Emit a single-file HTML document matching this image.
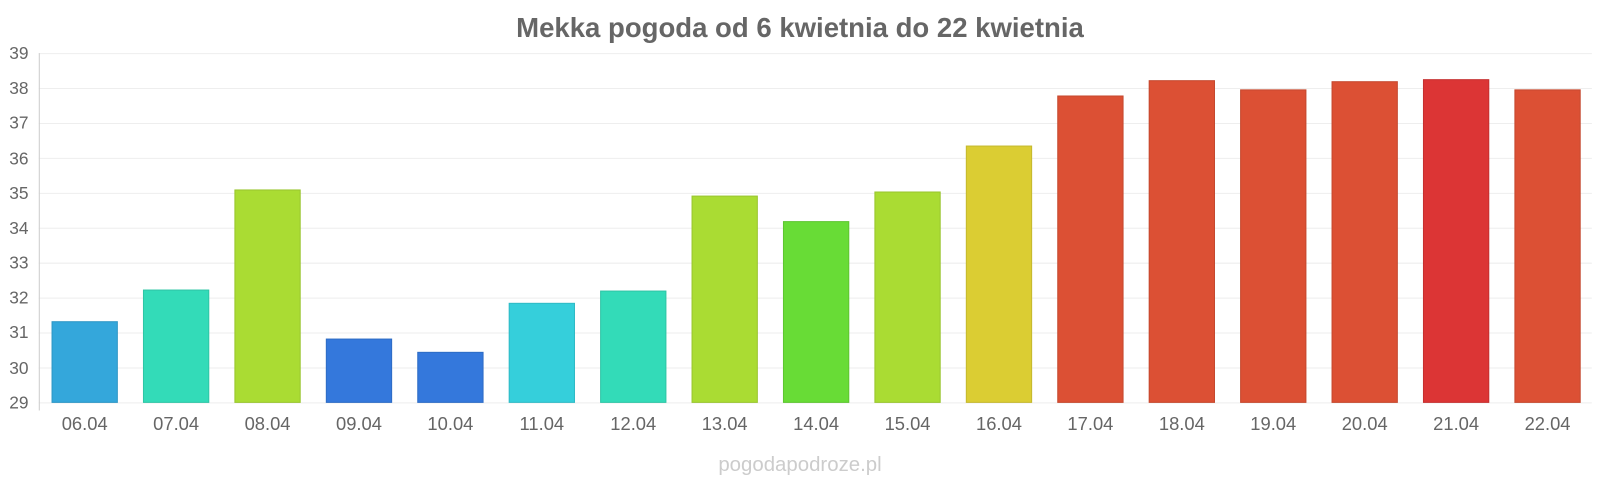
<!DOCTYPE html>
<html><head><meta charset="utf-8"><style>
body{margin:0;background:#fff;}
svg{display:block;font-family:"Liberation Sans",sans-serif;}
</style></head><body>
<svg width="1600" height="480" viewBox="0 0 1568 470" preserveAspectRatio="none" xmlns="http://www.w3.org/2000/svg">
<text x="784" y="36" text-anchor="middle" font-size="27" font-weight="bold" fill="#666">Mekka pogoda od 6 kwietnia do 22 kwietnia</text>
<g stroke="#eee" stroke-width="1">
<line x1="38" x2="1560" y1="52.5" y2="52.5"/>
<line x1="38" x2="1560" y1="86.7" y2="86.7"/>
<line x1="38" x2="1560" y1="120.9" y2="120.9"/>
<line x1="38" x2="1560" y1="155.1" y2="155.1"/>
<line x1="38" x2="1560" y1="189.3" y2="189.3"/>
<line x1="38" x2="1560" y1="223.5" y2="223.5"/>
<line x1="38" x2="1560" y1="257.7" y2="257.7"/>
<line x1="38" x2="1560" y1="291.9" y2="291.9"/>
<line x1="38" x2="1560" y1="326.1" y2="326.1"/>
<line x1="38" x2="1560" y1="360.3" y2="360.3"/>
<line x1="38" x2="1560" y1="394.5" y2="394.5"/>
</g>
<line x1="38.5" x2="38.5" y1="52" y2="402" stroke="#ccc"/>
<g font-size="17" fill="#666" text-anchor="end">
<text x="28" y="58">39</text><text x="28" y="92">38</text><text x="28" y="126">37</text><text x="28" y="161">36</text><text x="28" y="195">35</text><text x="28" y="229">34</text><text x="28" y="263">33</text><text x="28" y="297">32</text><text x="28" y="331">31</text><text x="28" y="366">30</text><text x="28" y="400">29</text>
</g>
<g stroke-width="1">
<rect x="51" y="315" width="64" height="79" fill="#34a7db" stroke="#2e96c5"/>
<rect x="140.6" y="284" width="64" height="110" fill="#33dbb8" stroke="#2ec5a5"/>
<rect x="230.2" y="186" width="64" height="208" fill="#aadc33" stroke="#99c52e"/>
<rect x="319.8" y="332" width="64" height="62" fill="#3478dc" stroke="#2e6cc5"/>
<rect x="409.4" y="345" width="64" height="49" fill="#3478dc" stroke="#2e6cc5"/>
<rect x="499" y="297" width="64" height="97" fill="#35cfdb" stroke="#2fbac5"/>
<rect x="588.6" y="285" width="64" height="109" fill="#33dbb8" stroke="#2ec5a5"/>
<rect x="678.2" y="192" width="64" height="202" fill="#aadc33" stroke="#99c52e"/>
<rect x="767.8" y="217" width="64" height="177" fill="#68dc36" stroke="#5dc530"/>
<rect x="857.4" y="188" width="64" height="206" fill="#aadc33" stroke="#99c52e"/>
<rect x="947" y="143" width="64" height="251" fill="#dbcd33" stroke="#c5b82e"/>
<rect x="1036.6" y="94" width="64" height="300" fill="#dc5034" stroke="#c5482e"/>
<rect x="1126.2" y="79" width="64" height="315" fill="#dc5034" stroke="#c5482e"/>
<rect x="1215.8" y="88" width="64" height="306" fill="#dc5034" stroke="#c5482e"/>
<rect x="1305.4" y="80" width="64" height="314" fill="#dc5034" stroke="#c5482e"/>
<rect x="1395" y="78" width="64" height="316" fill="#dc3535" stroke="#c52f2f"/>
<rect x="1484.6" y="88" width="64" height="306" fill="#dc5034" stroke="#c5482e"/>
</g>
<g font-size="18" fill="#666" text-anchor="middle">
<text x="83" y="421">06.04</text><text x="172.6" y="421">07.04</text><text x="262.2" y="421">08.04</text><text x="351.8" y="421">09.04</text><text x="441.4" y="421">10.04</text><text x="531" y="421">11.04</text><text x="620.6" y="421">12.04</text><text x="710.2" y="421">13.04</text><text x="799.8" y="421">14.04</text><text x="889.4" y="421">15.04</text><text x="979" y="421">16.04</text><text x="1068.6" y="421">17.04</text><text x="1158.2" y="421">18.04</text><text x="1247.8" y="421">19.04</text><text x="1337.4" y="421">20.04</text><text x="1427" y="421">21.04</text><text x="1516.6" y="421">22.04</text>
</g>
<text x="784" y="461" text-anchor="middle" font-size="20" fill="#ccc">pogodapodroze.pl</text>
</svg>
</body></html>
